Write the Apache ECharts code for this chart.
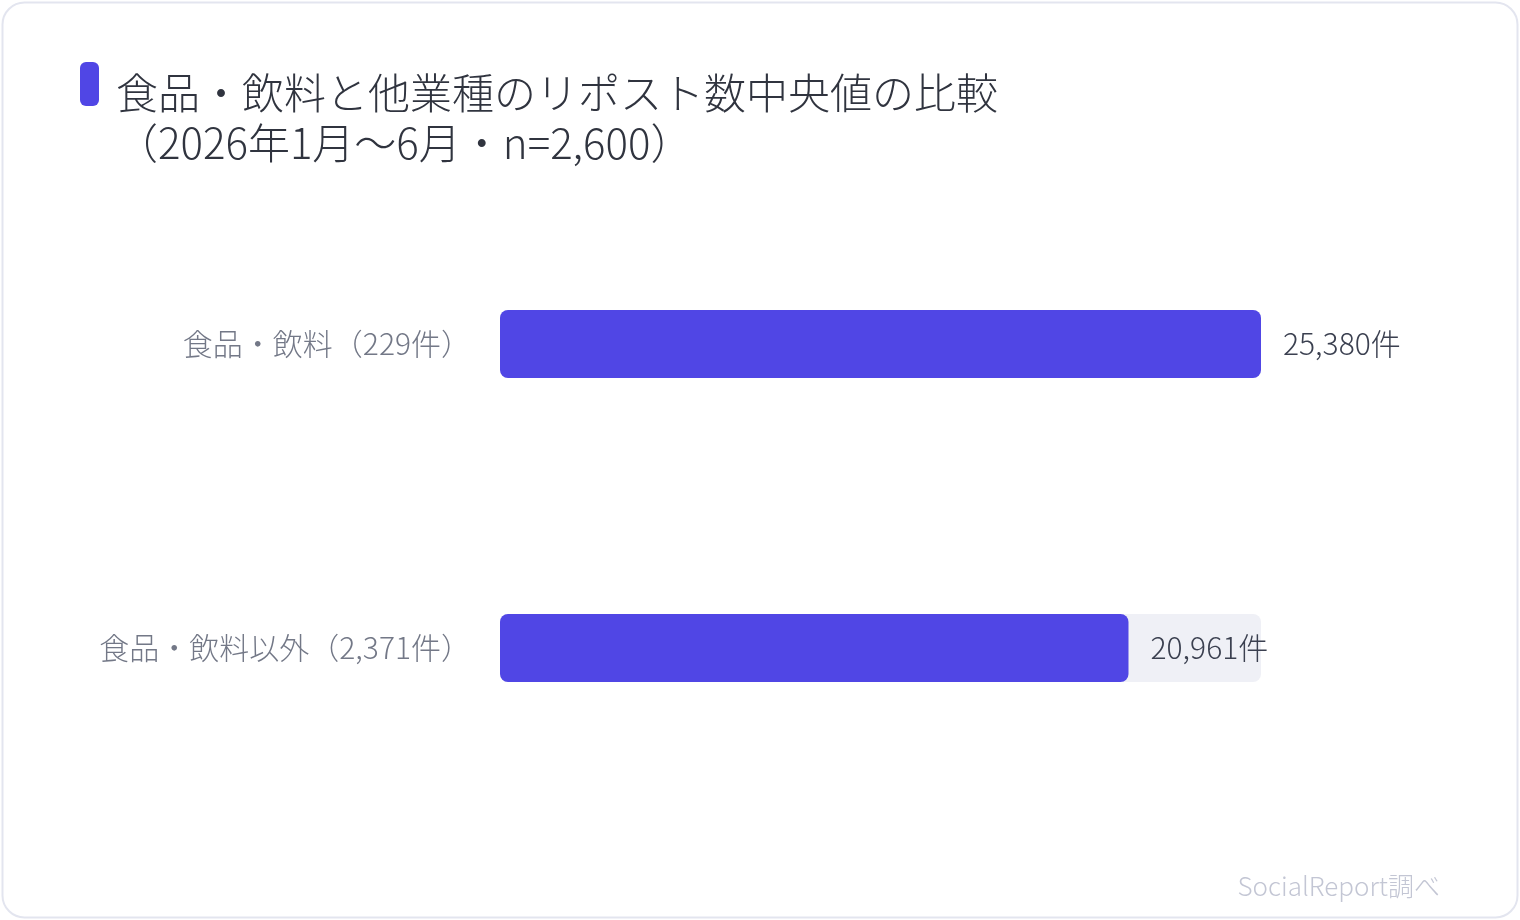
<!DOCTYPE html>
<html>
<head>
<meta charset="utf-8">
<title>食品・飲料と他業種のリポスト数中央値の比較</title>
<script src="https://cdn.jsdelivr.net/npm/echarts@6/dist/echarts.min.js"></script>
<style>
    html, body { margin: 0; padding: 0; background: #ffffff; }
    #chart { width: 1520px; height: 920px; }
</style>
</head>
<body>
<div id="chart"></div>
<script>
// データ
var categories = ['食品・飲料（229件）', '食品・飲料以外（2,371件）'];
var medianValues = [25380, 20961];
var titleText = '食品・飲料と他業種のリポスト数中央値の比較\n（2026年1月～6月・n=2,600）';
var sourceText = 'SocialReport調べ';

var FONT = '"Noto Sans CJK JP", "Noto Sans", sans-serif';

var myChart = echarts.init(document.getElementById('chart'));

// 上から順に表示するためカテゴリ軸を反転
var option = {
    backgroundColor: '#ffffff',
    animation: false,
    textStyle: { fontFamily: FONT },
    title: {
        text: titleText,
        left: 111,
        top: 63,
        textStyle: {
            fontFamily: FONT,
            fontSize: 42,
            fontWeight: 300,
            color: '#30343f',
            lineHeight: 50
        }
    },
    grid: {
        left: 500,
        right: 259,
        top: 192,
        bottom: 120
    },
    xAxis: {
        type: 'value',
        min: 0,
        max: Math.max.apply(null, medianValues),
        show: false
    },
    yAxis: {
        type: 'category',
        data: categories,
        inverse: true,
        axisLine: { show: false },
        axisTick: { show: false },
        axisLabel: {
            margin: 29,
            fontFamily: FONT,
            fontSize: 30,
            fontWeight: 300,
            color: '#737887'
        }
    },
    series: [{
        type: 'bar',
        data: medianValues,
        barWidth: 68,
        showBackground: true,
        backgroundStyle: {
            color: '#eff0f6',
            borderRadius: 8
        },
        itemStyle: {
            color: '#5046e5',
            borderRadius: 8
        },
        label: {
            show: true,
            position: 'right',
            distance: 22,
            fontFamily: FONT,
            fontSize: 30,
            fontWeight: 300,
            color: '#3b4050',
            formatter: function (p) {
                return p.value.toLocaleString('en-US') + '件';
            }
        }
    }],
    graphic: [
        {
            type: 'rect',
            shape: { x: 2.5, y: 2.5, width: 1515, height: 915, r: 22 },
            style: { fill: 'none', stroke: '#e3e5ef', lineWidth: 2 },
            silent: true
        },
        {
            type: 'rect',
            shape: { x: 80, y: 62, width: 19, height: 44, r: 6 },
            style: { fill: '#5046e5' },
            silent: true
        },
        {
            type: 'text',
            right: 80,
            top: 873,
            style: {
                text: sourceText,
                fontFamily: FONT,
                fontSize: 26,
                fontWeight: 300,
                fill: '#c3c6d4'
            },
            silent: true
        }
    ]
};

myChart.setOption(option);
</script>
</body>
</html>
